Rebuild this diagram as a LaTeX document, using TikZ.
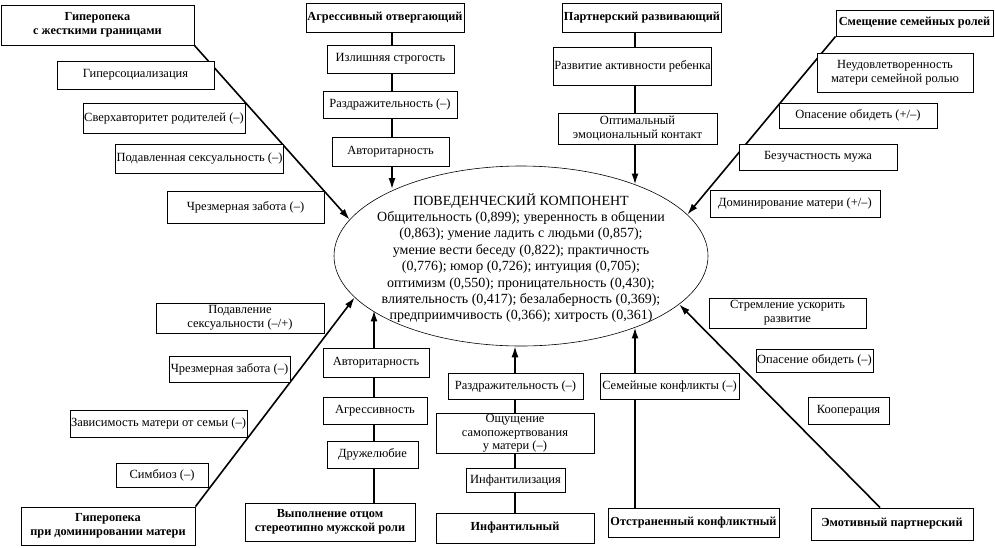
\documentclass[tikz,border=0pt]{standalone}
\usepackage{fontspec}
\setmainfont{Liberation Serif}
\usetikzlibrary{shapes.geometric,arrows.meta,backgrounds}
\begin{document}
\begin{tikzpicture}[x=1pt,y=-1pt,
  box/.style={draw, fill=white, line width=0.7pt, inner sep=1pt, align=center,
    font=\fontsize{12.5}{14}\selectfont},
  title/.style={draw, fill=white, line width=1pt, inner sep=1pt, align=center,
    font=\fontsize{12.3}{14.5}\selectfont\bfseries},
  bx/.style 2 args={minimum width=#1pt, minimum height=#2pt},
  arr/.style={line width=1.6pt, -{Latex[length=11pt,width=7pt]}},
  ln/.style={line width=1.6pt}]
\useasboundingbox (0,0) rectangle (995,547);
% ellipse
\node[draw, ellipse, line width=0.6pt, minimum width=374pt, minimum height=180pt, inner sep=0pt] (E) at (521,256) {};
\node[align=center, font=\fontsize{14}{16.4}\selectfont] (Et) at (521,258) {ПОВЕДЕНЧЕСКИЙ КОМПОНЕНТ\\
Общительность (0,899); уверенность в общении\\
(0,863); умение ладить с людьми (0,857);\\
умение вести беседу (0,822); практичность\\
(0,776); юмор (0,726); интуиция (0,705);\\
оптимизм (0,550); проницательность (0,430);\\
влиятельность (0,417); безалаберность (0,369);\\
предприимчивость (0,366); хитрость (0,361)};
% top left group
\node[title, bx={193}{40}] (T1) at (97.5,25) {Гиперопека\\с жесткими границами};
\node[box, bx={157}{28}] (L1) at (135.5,75) {Гиперсоциализация};
\node[box, bx={162}{30}] (L2) at (164,118) {Сверхавторитет родителей (–)};
\node[box, bx={167}{29}] (L3) at (199.5,158.5) {Подавленная сексуальность (–)};
\node[box, bx={157}{32}] (L4) at (245.5,207) {Чрезмерная забота (–)};
% top middle left
\node[title, bx={158}{29}] (T2) at (385,17.5) {Агрессивный отвергающий};
\node[box, bx={127}{28}] (M1) at (390.5,59) {Излишняя строгость};
\node[box, bx={134}{27}] (M2) at (390,104.5) {Раздражительность (–)};
\node[box, bx={117}{29}] (M3) at (390.5,151.5) {Авторитарность};
% top middle right
\node[title, bx={154}{29}] (T3) at (642,17.5) {Партнерский развивающий};
\node[box, bx={149}{38}] (R1) at (632.5,66) {Развитие активности ребенка};
\node[box, bx={159}{31}] (R2) at (637.5,128.5) {Оптимальный\\эмоциональный контакт};
% top right
\node[title, bx={157}{26}] (T4) at (914.5,23) {Смещение семейных ролей};
\node[box, bx={156}{39}] (Q1) at (895,72.5) {Неудовлетворенность\\матери семейной ролью};
\node[box, bx={158}{25}] (Q2) at (858,115.5) {Опасение обидеть (+/–)};
\node[box, bx={158}{26}] (Q3) at (818,157) {Безучастность мужа};
\node[box, bx={170}{27}] (Q4) at (795,203.5) {Доминирование матери (+/–)};
% bottom left
\node[title, bx={174}{38}] (B1) at (108,526) {Гиперопека\\при доминировании матери};
\node[box, bx={168}{30}] (P1) at (240,318) {Подавление\\сексуальности (–/+)};
\node[box, bx={121}{26}] (P2) at (229.5,369) {Чрезмерная забота (–)};
\node[box, bx={173}{27}] (P3) at (158.5,423.5) {Зависимость матери от семьи (–)};
\node[box, bx={92}{24}] (P4) at (162,475) {Симбиоз (–)};
% bottom middle left
\node[title, bx={170}{38}] (B2) at (330,522) {Выполнение отцом\\стереотипно мужской роли};
\node[box, bx={106}{29}] (N1) at (376,362.5) {Авторитарность};
\node[box, bx={104}{27}] (N2) at (375,410.5) {Агрессивность};
\node[box, bx={91}{27}] (N3) at (372.5,454.5) {Дружелюбие};
% bottom middle
\node[title, bx={158}{30}] (B3) at (515,528) {Инфантильный};
\node[box, bx={135}{26}] (I1) at (515.5,386) {Раздражительность (–)};
\node[box, bx={158}{39}, font=\fontsize{12.5}{13.3}\selectfont] (I2) at (515,433.5) {Ощущение\\самопожертвования\\у матери (–)};
\node[box, bx={99}{24}] (I3) at (515.5,480) {Инфантилизация};
% bottom middle right
\node[title, bx={171}{29}] (B4) at (693.5,522.5) {Отстраненный конфликтный};
\node[box, bx={139}{26}] (K1) at (669.5,386) {Семейные конфликты (–)};
% bottom right
\node[title, bx={162}{32}] (B5) at (892,524) {Эмотивный партнерский};
\node[box, bx={157}{30}] (S1) at (787.5,313) {Стремление ускорить\\развитие};
\node[box, bx={117}{23}] (S2) at (814.5,360.5) {Опасение обидеть (–)};
\node[box, bx={81}{27}] (S3) at (848.5,410.5) {Кооперация};
% x positions of vertical connectors
\coordinate (xl) at (392,0);
\coordinate (xr) at (635,0);
\coordinate (xb) at (374,0);
\begin{scope}[on background layer]
\fill[white] (0,0) rectangle (995,547);
\draw[arr] (T1.south east) -- (E.168.9);
\draw[arr] (T2.south -| xl) -- (xl |- E.152.9);
\draw[arr] (T3.south -| xr) -- (xr |- E.32);
\draw[arr] (T4.south west) -- (E.14.6);
\draw[arr] (B1.north east) -- (E.194.4);
\draw[arr] (B2.north -| xb) -- (xb |- E.200.7);
\draw[arr] (B3.north) -- (B3 |- E.south);
\draw[arr] (B4.north -| xr) -- (xr |- E.328);
\draw[arr] ([xshift=-12pt]B5.north) -- (E.343.2);
\end{scope}
\end{tikzpicture}
\end{document}
